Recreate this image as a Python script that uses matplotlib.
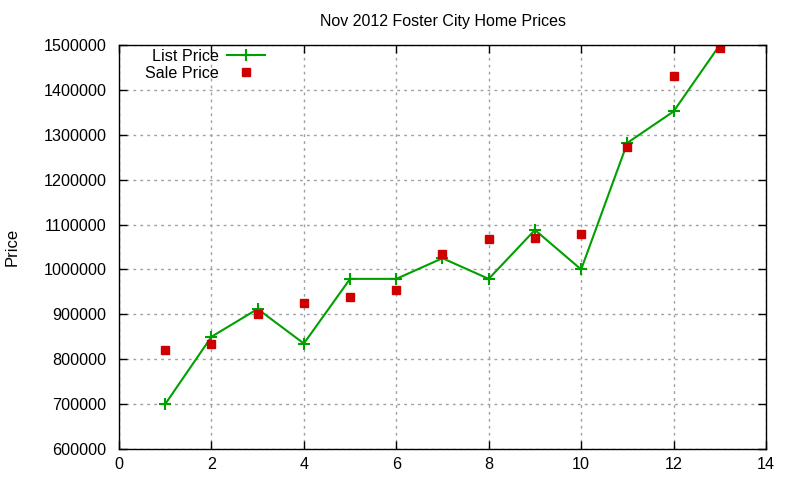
import matplotlib
matplotlib.use('Agg')
import matplotlib.pyplot as plt
from matplotlib.ticker import FormatStrFormatter, MultipleLocator

plt.rcParams['font.family'] = ['Liberation Sans', 'DejaVu Sans']

# data
months = [1, 2, 3, 4, 5, 6, 7, 8, 9, 10, 11, 12, 13]
list_price = [700000, 850000, 912000, 835000, 979000, 979000, 1025000,
              979000, 1088000, 1000000, 1282000, 1352000, 1500000]
sale_price = [821000, 835000, 900000, 925000, 938000, 954000, 1034000,
              1067000, 1069000, 1080000, 1273000, 1432000, 1494000]

fig = plt.figure(figsize=(8, 4.8), dpi=100)
ax = fig.add_axes([119/800, 1 - 449/480, (766-119)/800, (449-45)/480])

ax.plot(months, list_price, color='#00a000', linewidth=1.5, marker='+',
        markersize=8, markeredgewidth=1.5, label='List Price')
ax.plot(months, sale_price, linestyle='none', color='#cc0000', marker='s',
        markersize=6, label='Sale Price')

ax.set_xlim(0, 14)
ax.set_ylim(600000, 1500000)
ax.xaxis.set_major_locator(MultipleLocator(2))
ax.yaxis.set_major_locator(MultipleLocator(100000))
ax.yaxis.set_major_formatter(FormatStrFormatter('%d'))
ax.tick_params(direction='in', top=True, right=True, length=6, labelsize=11.6, width=1)
ax.tick_params(axis='y', pad=9)
ax.tick_params(axis='x', pad=6)
ax.grid(True, color='#a0a0a0', linestyle=(0, (2, 3)), linewidth=1)
for s in ax.spines.values():
    s.set_linewidth(1)

ax.set_title('Nov 2012 Foster City Home Prices', fontsize=11.5, pad=14)
ax.set_ylabel('Price', fontsize=12)
ax.yaxis.set_label_coords(-0.153, 0.5)

ax.legend(loc='upper left', bbox_to_anchor=(0.025, 1.015), frameon=False,
          markerfirst=False, fontsize=11.6, handlelength=2.4, labelspacing=0.12,
          borderaxespad=0.2, handletextpad=0.5)

fig.savefig('out.png', dpi=100)
